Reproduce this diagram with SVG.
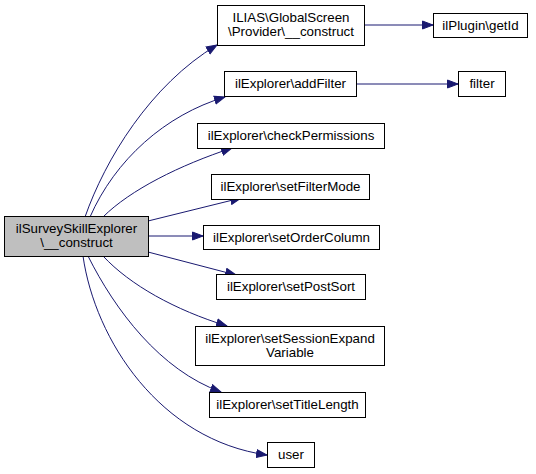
<svg xmlns="http://www.w3.org/2000/svg" width="536" height="474" viewBox="0 0 536 474">
<style>
.n rect{fill:#fff;stroke:#000;stroke-width:1}
.n.main rect{fill:#bfbfbf}
text{font-family:"Liberation Sans",Arial,Helvetica,sans-serif;font-size:13.33px;text-anchor:middle;fill:#000}
.e path{fill:none;stroke:#191970;stroke-width:1;marker-end:url(#ah)}
</style>
<defs>
<marker id="ah" markerUnits="userSpaceOnUse" markerWidth="12" markerHeight="10" refX="11" refY="5" orient="auto">
<path d="M0.5,1 L11,5 L0.5,9 Z" fill="#191970" stroke="#191970"/>
</marker>
</defs>
<rect width="536" height="474" fill="#fff"/>
<g id="edges" class="e">
<path d="M85,217 C105,160 150,85 217,45"/>
<path d="M90,217 C115,160 165,115 225,97"/>
<path d="M103,217 C130,190 180,165 232,148"/>
<path d="M148,221 L241,198"/>
<path d="M148,236 L203,236"/>
<path d="M148,252 L236,275"/>
<path d="M103,256 C130,285 175,310 227,326"/>
<path d="M88,256 C115,310 160,370 221,392"/>
<path d="M83,256 C95,340 160,440 267,455"/>
<path d="M364,25 L433,25"/>
<path d="M356,84 L458,84"/>
</g>
<g id="main" class="n main"><rect x="4.5" y="216.5" width="144" height="40"/><text x="76.5" y="233">ilSurveySkillExplorer</text><text x="76.5" y="247">\__construct</text></g>
<g id="ilias" class="n"><rect x="217.5" y="5.5" width="147" height="40"/><text x="291" y="22">ILIAS\GlobalScreen</text><text x="291" y="36">\Provider\__construct</text></g>
<g id="getid" class="n"><rect x="433.5" y="13.5" width="94" height="24"/><text x="480.5" y="30">ilPlugin\getId</text></g>
<g id="addfilter" class="n"><rect x="224.5" y="71.5" width="132" height="25"/><text x="290.5" y="88">ilExplorer\addFilter</text></g>
<g id="filter" class="n"><rect x="458.5" y="71.5" width="47" height="25"/><text x="482" y="88">filter</text></g>
<g id="checkperm" class="n"><rect x="197.5" y="123.5" width="187" height="25"/><text x="291" y="140">ilExplorer\checkPermissions</text></g>
<g id="setfiltermode" class="n"><rect x="211.5" y="174.5" width="158" height="25"/><text x="290.5" y="191">ilExplorer\setFilterMode</text></g>
<g id="setordercolumn" class="n"><rect x="203.5" y="225.5" width="176" height="24"/><text x="291.5" y="242">ilExplorer\setOrderColumn</text></g>
<g id="setpostsort" class="n"><rect x="216.5" y="274.5" width="149" height="25"/><text x="291" y="291">ilExplorer\setPostSort</text></g>
<g id="setsession" class="n"><rect x="195.5" y="326.5" width="189" height="39"/><text x="290" y="343">ilExplorer\setSessionExpand</text><text x="290" y="357">Variable</text></g>
<g id="settitle" class="n"><rect x="209.5" y="392.5" width="156" height="25"/><text x="287.5" y="409">ilExplorer\setTitleLength</text></g>
<g id="user" class="n"><rect x="267.5" y="442.5" width="47" height="25"/><text x="291" y="459">user</text></g>
</svg>
